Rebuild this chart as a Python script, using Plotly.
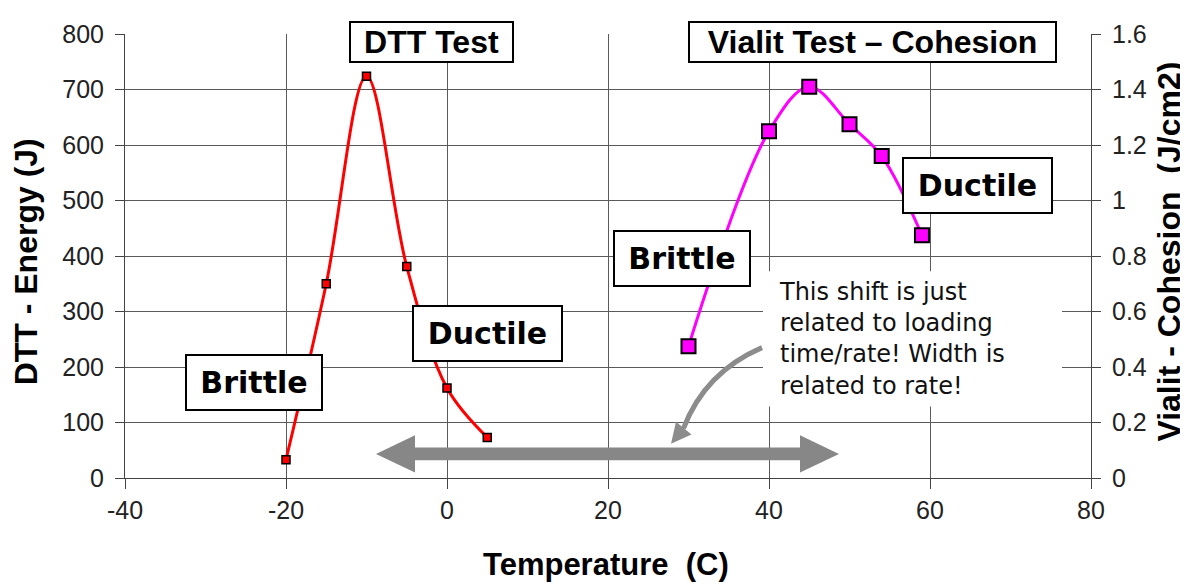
import plotly.graph_objects as go

# ---- data ----
dtt_temp = [-20, -15, -10, -5, 0, 5]
dtt_energy = [33, 350, 724, 381, 162, 73]
vialit_temp = [30, 40, 45, 50, 54, 59]
vialit_cohesion = [0.475, 1.25, 1.41, 1.275, 1.16, 0.875]

x_ticks = [-40, -20, 0, 20, 40, 60, 80]
x_ticklabels = ["-40", "-20", "0", "20", "40", "60", "80"]
y_ticks = [0, 100, 200, 300, 400, 500, 600, 700, 800]
y2_ticks = [0, 0.2, 0.4, 0.6, 0.8, 1, 1.2, 1.4, 1.6]
y2_ticklabels = ["0", "0.2", "0.4", "0.6", "0.8", "1", "1.2", "1.4", "1.6"]

# page body has an 8px margin; layout is expressed in page pixels
OFF = 8
W, H = 1188 - OFF, 584 - OFF
PL, PR, PT, PB = 125, 1091, 25, 478  # plot area in page pixels
L, T = PL - OFF, PT - OFF
R, B = W - (PR - OFF), H - (PB - OFF)
PW, PH = PR - PL, PB - PT


def px(x):
    return (x - PL) / PW


def py(y):
    return (PB - y) / PH


fig = go.Figure()
fig.add_trace(go.Scatter(
    x=dtt_temp, y=dtt_energy, mode="lines+markers",
    line=dict(color="#FF0000", width=3, shape="spline", smoothing=1),
    marker=dict(symbol="square", size=8, color="#FF0000", line=dict(color="black", width=1.5)),
    showlegend=False, cliponaxis=False))
fig.add_trace(go.Scatter(
    x=vialit_temp, y=vialit_cohesion, mode="lines+markers", yaxis="y2",
    line=dict(color="#FF00FF", width=3, shape="spline", smoothing=1),
    marker=dict(symbol="square", size=14, color="#FF00FF", line=dict(color="black", width=2)),
    showlegend=False, cliponaxis=False))

tickfont = dict(family="Liberation Sans, Arial", size=25, color="#222")
gridc = "#5a5a5a"
fig.update_layout(
    width=W, height=H, margin=dict(l=L, r=R, t=T, b=B),
    paper_bgcolor="white", plot_bgcolor="white",
    xaxis=dict(range=[-40, 80], tickvals=x_ticks, ticktext=x_ticklabels,
               showgrid=True, gridcolor=gridc, gridwidth=1,
               zeroline=False, showline=True, linecolor="#444", linewidth=1,
               ticks="outside", ticklen=10, tickcolor="#444", tickfont=tickfont),
    yaxis=dict(range=[0, 800], tickvals=y_ticks, showgrid=True, gridcolor=gridc, gridwidth=1,
               zeroline=False, showline=True, linecolor="#444", linewidth=1,
               ticks="outside", ticklen=9, tickcolor="#444", tickfont=tickfont,
               ticklabelstandoff=6),
    yaxis2=dict(range=[0, 1.6], tickvals=y2_ticks, ticktext=y2_ticklabels,
                overlaying="y", side="right",
                showgrid=False, zeroline=False, showline=True, linecolor="#444", linewidth=1,
                ticks="outside", ticklen=9, tickcolor="#444", tickfont=tickfont,
                ticklabelstandoff=6),
)

titlefont = dict(family="Liberation Sans, Arial", size=32, color="black", weight="bold")
annos = [
    dict(text="DTT - Energy (J)", x=px(26), y=py(258), textangle=-90, font=titlefont),
    dict(text="Vialit - Cohesion  (J/cm2)", x=px(1169), y=py(247), textangle=-90, font=titlefont),
    dict(text="Temperature  (C)", x=px(606), y=py(566), font=dict(titlefont, size=31)),
]
for a in annos:
    fig.add_annotation(xref="paper", yref="paper", showarrow=False,
                       xanchor="center", yanchor="middle", **a)

# boxed labels: (text, left, top, right, bottom, font family, size)
boxes = [
    ("DTT Test", 349, 12, 514, 54, "Liberation Sans, Arial", 32),
    ("Vialit Test \u2013 Cohesion", 688, 12, 1057, 54, "Liberation Sans, Arial", 32),
    ("Brittle", 185, 352, 323, 409, "DejaVu Sans", 30),
    ("Ductile", 412, 302, 563, 359, "DejaVu Sans", 30),
    ("Brittle", 613, 226, 751, 283, "DejaVu Sans", 30),
    ("Ductile", 902, 151, 1053, 208, "DejaVu Sans", 30),
]
for txt, x0, y0, x1, y1, fam, sz in boxes:
    fig.add_annotation(xref="paper", yref="paper", showarrow=False,
                       x=px((x0 + x1) / 2), y=py((y0 + y1) / 2),
                       xanchor="center", yanchor="middle",
                       text=txt, font=dict(family=fam, size=sz, color="black", weight="bold"),
                       bgcolor="white", bordercolor="black", borderwidth=2, borderpad=0,
                       width=x1 - x0 - 4, height=y1 - y0 - 4)

# white note box
fig.add_shape(type="rect", xref="paper", yref="paper",
              x0=px(763), x1=px(1062), y0=py(405), y1=py(267),
              fillcolor="white", line=dict(width=0), layer="above")
fig.add_annotation(xref="paper", yref="paper", showarrow=False,
                   x=px(777), y=py(336), xanchor="left", yanchor="middle", align="left",
                   text="This shift is just<br>related to loading<br>time/rate! Width is<br>related to rate!",
                   font=dict(family="DejaVu Sans", size=24, color="#111"))

# big double-headed arrow
pts = [(376, 453.5), (415, 434.5), (415, 447), (800, 447), (800, 434.5), (839, 453.5),
       (800, 472.5), (800, 460), (415, 460), (415, 472.5)]
path = "M " + " L ".join(f"{px(a):.5f},{py(b):.5f}" for a, b in pts) + " Z"
fig.add_shape(type="path", xref="paper", yref="paper", path=path,
              fillcolor="#878787", line=dict(width=0), layer="above")

# curved arrow
p0, p1, p2 = (762, 345), (705, 370), (683.5, 427.4)
curve = f"M {px(p0[0]):.5f},{py(p0[1]):.5f} Q {px(p1[0]):.5f},{py(p1[1]):.5f} {px(p2[0]):.5f},{py(p2[1]):.5f}"
fig.add_shape(type="path", xref="paper", yref="paper", path=curve,
              line=dict(color="#8c8c8c", width=5), layer="above")
head = [(671, 443), (691.5, 433.5), (676, 420.5)]
hpath = "M " + " L ".join(f"{px(a):.5f},{py(b):.5f}" for a, b in head) + " Z"
fig.add_shape(type="path", xref="paper", yref="paper", path=hpath,
              fillcolor="#8c8c8c", line=dict(width=0), layer="above")

fig.write_html("out.html")
